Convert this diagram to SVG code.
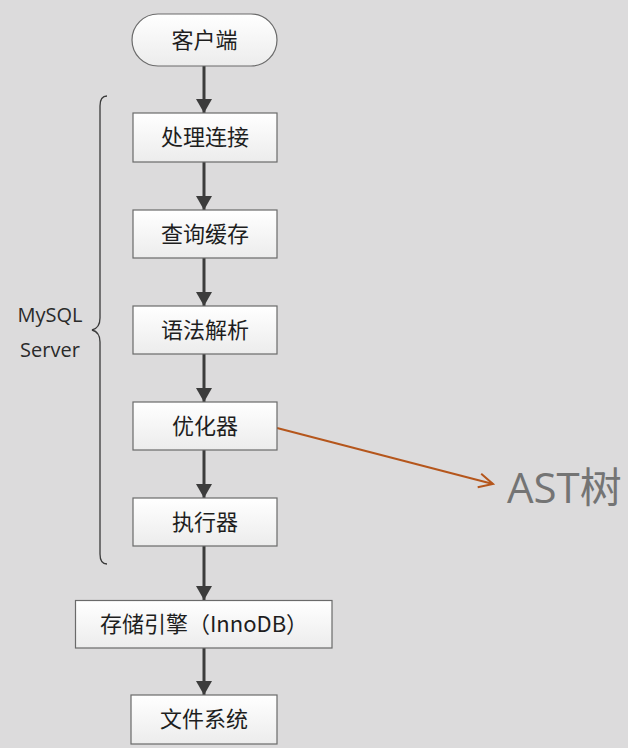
<svg xmlns="http://www.w3.org/2000/svg" width="628" height="748" viewBox="0 0 628 748">
<defs>
<linearGradient id="g" x1="0" y1="0" x2="0" y2="1"><stop offset="0" stop-color="#ffffff"/><stop offset="1" stop-color="#ececec"/></linearGradient>
<marker id="ah" markerWidth="14" markerHeight="16" refX="14" refY="8" orient="auto" markerUnits="userSpaceOnUse"><path d="M0,0 L14,8 L0,16 Z" fill="#3c3c3c"/></marker>
<marker id="oa" markerWidth="20" markerHeight="20" refX="18" refY="10" orient="auto" markerUnits="userSpaceOnUse"><path d="M4,3 L18,10 L4,17" fill="none" stroke="#b5561c" stroke-width="2"/></marker>
</defs>
<style>
.box{fill:url(#g);stroke:#6a6a6a;stroke-width:1.2}
.t{font-family:"Noto Sans CJK SC","Liberation Sans",sans-serif;font-size:22px;fill:#1e1e1e;text-anchor:middle}
.c{stroke:#3c3c3c;stroke-width:3;fill:none}
.lbl{font-family:"Open Sans","Liberation Sans",sans-serif;font-size:20px;fill:#2a2a2a;text-anchor:middle}
</style>
<rect width="628" height="748" fill="#dcdbdc"/>
<g id="connectors">
<line class="c" x1="204" y1="66" x2="204" y2="113" marker-end="url(#ah)"/>
<line class="c" x1="204" y1="162" x2="204" y2="210" marker-end="url(#ah)"/>
<line class="c" x1="204" y1="258" x2="204" y2="306" marker-end="url(#ah)"/>
<line class="c" x1="204" y1="354" x2="204" y2="402" marker-end="url(#ah)"/>
<line class="c" x1="204" y1="450" x2="204" y2="498" marker-end="url(#ah)"/>
<line class="c" x1="204" y1="546" x2="204" y2="600" marker-end="url(#ah)"/>
<line class="c" x1="204" y1="648" x2="204" y2="695" marker-end="url(#ah)"/>
<line x1="277" y1="428" x2="493" y2="484" stroke="#b5561c" stroke-width="2" marker-end="url(#oa)"/>
</g>
<g id="client"><rect class="box" x="132" y="14" width="145" height="52" rx="26"/><text class="t" x="204.5" y="48">客户端</text></g>
<g id="conn"><rect class="box" x="133" y="113" width="144" height="49"/><text class="t" x="205" y="145">处理连接</text></g>
<g id="cache"><rect class="box" x="133" y="210" width="144" height="48"/><text class="t" x="205" y="242">查询缓存</text></g>
<g id="parse"><rect class="box" x="133" y="306" width="144" height="48"/><text class="t" x="205" y="338">语法解析</text></g>
<g id="opt"><rect class="box" x="133" y="402" width="144" height="48"/><text class="t" x="205" y="434">优化器</text></g>
<g id="exec"><rect class="box" x="133" y="498" width="144" height="48"/><text class="t" x="205" y="530">执行器</text></g>
<g id="engine"><rect class="box" x="75.5" y="600.5" width="256.5" height="47.5"/><text class="t" x="204" y="632">存储引擎（InnoDB）</text></g>
<g id="fs"><rect class="box" x="131" y="695" width="146" height="49"/><text class="t" x="204" y="727">文件系统</text></g>
<g id="brace"><path d="M107,96 Q100,96 100,106 L100,318 Q100,328 92,330 Q100,332 100,342 L100,554 Q100,564 107,564" fill="none" stroke="#3a3a3a" stroke-width="1.3"/>
<text class="lbl" x="50" y="322">MySQL</text><text class="lbl" x="50" y="357">Server</text></g>
<g id="ast"><text x="507" y="503" font-family="'Open Sans','Noto Sans CJK SC',sans-serif" font-size="42" fill="#747474">AST树</text></g>
</svg>
